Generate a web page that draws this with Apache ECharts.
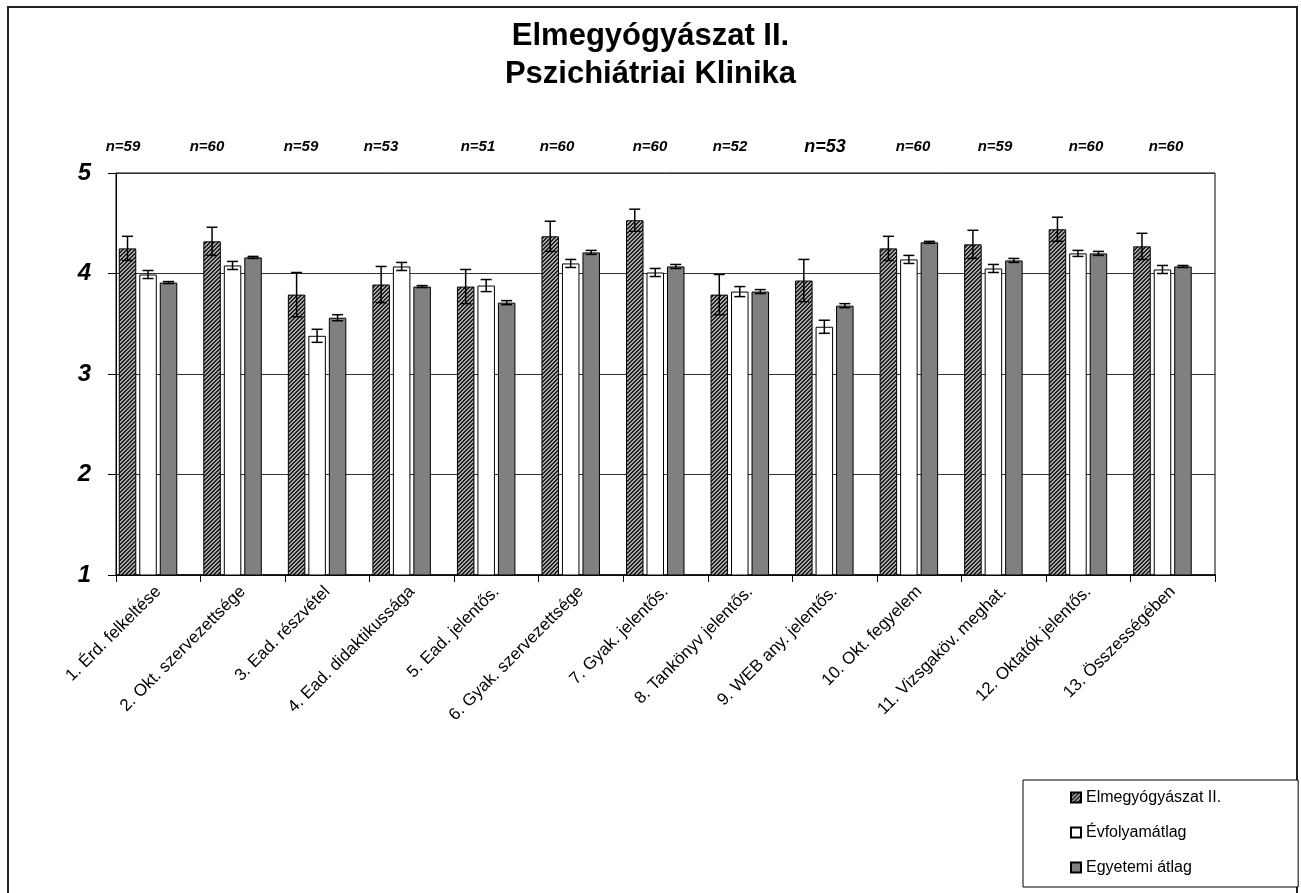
<!DOCTYPE html>
<html>
<head>
<meta charset="utf-8">
<script src="https://cdn.jsdelivr.net/npm/echarts@6/dist/echarts.min.js"></script>
<style>
  html, body { margin: 0; padding: 0; background: #fff; }
  #chart { width: 1301px; height: 893px; }
</style>
</head>
<body>
<div id="chart"></div>
<script>
// ---- data ----
const categories = ['1. Érd. felkeltése', '2. Okt. szervezettsége', '3. Ead. részvétel', '4. Ead. didaktikussága',
  '5. Ead. jelentős.', '6. Gyak. szervezettsége', '7. Gyak. jelentős.', '8. Tankönyv jelentős.',
  '9. WEB any. jelentős.', '10. Okt. fegyelem', '11. Vizsgaköv. meghat.', '12. Oktatók jelentős.', '13. Összességében'];
const seriesNames = ['Elmegyógyászat II.', 'Évfolyamátlag', 'Egyetemi átlag'];
const clinic    = [4.25, 4.32, 3.79, 3.89, 3.87, 4.37, 4.53, 3.79, 3.93, 4.25, 4.29, 4.44, 4.27];
const clinicErr = [0.12, 0.14, 0.22, 0.18, 0.17, 0.15, 0.11, 0.20, 0.21, 0.12, 0.14, 0.12, 0.13];
const yearAvg   = [3.99, 4.08, 3.38, 4.07, 3.88, 4.10, 4.01, 3.82, 3.47, 4.14, 4.05, 4.20, 4.04];
const yearErr   = [0.04, 0.04, 0.065, 0.04, 0.06, 0.04, 0.04, 0.05, 0.065, 0.04, 0.04, 0.03, 0.04];
const univAvg   = [3.91, 4.16, 3.56, 3.87, 3.71, 4.21, 4.07, 3.82, 3.68, 4.31, 4.13, 4.20, 4.07];
const univErr   = [0.01, 0.01, 0.03, 0.01, 0.02, 0.02, 0.02, 0.02, 0.02, 0.01, 0.02, 0.02, 0.01];
const nLabels   = ['n=59', 'n=60', 'n=59', 'n=53', 'n=51', 'n=60', 'n=60', 'n=52', 'n=53', 'n=60', 'n=59', 'n=60', 'n=60'];
const yTicks    = [1, 2, 3, 4, 5];

// ---- layout (positions / styles) ----
const FONT = "'Liberation Sans', Arial, sans-serif";
const nLabelX = [123, 207, 301, 381, 478, 557, 650, 730, 825, 913, 995, 1086, 1166];
const nLabelSize = [15, 15, 15, 15, 15, 15, 15, 15, 18, 15, 15, 15, 15];
const BAR_W = 17.5, BAR_GAP = 3;
const nBarsSlots = 4;
const totalW = nBarsSlots * BAR_W + (nBarsSlots - 1) * BAR_GAP;
const barOffsets = [0, 1, 2].map(i => -totalW / 2 + BAR_W / 2 + i * (BAR_W + BAR_GAP));

// hatched pattern
const pc = document.createElement('canvas');
pc.width = 4; pc.height = 4;
const pctx = pc.getContext('2d');
pctx.fillStyle = '#a8a8a8';
pctx.fillRect(0, 0, 4, 4);
pctx.fillStyle = '#222222';
for (let k = 0; k < 4; k++) {
  pctx.fillRect(k, 3 - k, 1, 1);
  pctx.fillRect((k + 1) % 4, 3 - k, 1, 1);
}
const hatch = { image: pc, repeat: 'repeat' };

const chart = echarts.init(document.getElementById('chart'), null, { renderer: 'canvas' });

function errRender(offset) {
  return function (params, api) {
    const i = api.value(0), v = api.value(1), e = api.value(2);
    const top = api.coord([i, v + e]);
    const bot = api.coord([i, v - e]);
    const x = top[0] + offset;
    const cap = 5.5;
    const st = { stroke: '#000', lineWidth: 1.5 };
    return {
      type: 'group',
      children: [
        { type: 'line', shape: { x1: x, y1: top[1], x2: x, y2: bot[1] }, style: st },
        { type: 'line', shape: { x1: x - cap, y1: top[1], x2: x + cap, y2: top[1] }, style: st },
        { type: 'line', shape: { x1: x - cap, y1: bot[1], x2: x + cap, y2: bot[1] }, style: st }
      ]
    };
  };
}

const barBase = {
  type: 'bar',
  barWidth: BAR_W,
  barGap: (BAR_GAP / BAR_W * 100).toFixed(1) + '%',
  itemStyle: { borderColor: '#000', borderWidth: 1 },
  emphasis: { disabled: true },
  animation: false
};

const values = [clinic, yearAvg, univAvg];
const errs = [clinicErr, yearErr, univErr];
const colors = [hatch, '#ffffff', '#808080'];

const series = [];
values.forEach((vals, s) => {
  series.push(Object.assign({}, barBase, {
    name: seriesNames[s],
    data: vals,
    itemStyle: { color: colors[s], borderColor: '#000', borderWidth: 1 }
  }));
});
// invisible spacer series (hidden 4th slot in original)
series.push(Object.assign({}, barBase, { name: '_spacer', data: categories.map(() => '-') }));
values.forEach((vals, s) => {
  series.push({
    type: 'custom',
    name: seriesNames[s] + ' err',
    renderItem: errRender(barOffsets[s]),
    data: vals.map((v, i) => [i, v, errs[s][i]]),
    z: 10,
    silent: true,
    animation: false
  });
});

const graphics = [
  { type: 'polyline', shape: { points: [[8, 900], [8, 7], [1297, 7], [1297, 900]] },
    style: { stroke: '#222', lineWidth: 2, fill: null }, silent: true }
];
nLabels.forEach((t, i) => {
  graphics.push({
    type: 'text', x: nLabelX[i], y: 147,
    style: { text: t, font: 'italic bold ' + nLabelSize[i] + 'px ' + FONT, fill: '#000',
             textAlign: 'center', textVerticalAlign: 'middle' },
    silent: true
  });
});

chart.setOption({
  backgroundColor: '#fff',
  animation: false,
  title: {
    text: 'Elmegyógyászat II.\nPszichiátriai Klinika',
    left: 'center',
    top: 12,
    textStyle: { fontFamily: FONT, fontSize: 31, fontWeight: 'bold', color: '#000', lineHeight: 38 }
  },
  legend: {
    data: seriesNames,
    orient: 'vertical',
    left: 1023,
    top: 780,
    padding: [8, 77, 10, 47],
    itemGap: 16,
    itemWidth: 10,
    itemHeight: 10,
    icon: 'rect',
    borderColor: '#000',
    borderWidth: 1,
    backgroundColor: '#fff',
    textStyle: { fontFamily: FONT, fontSize: 16, color: '#000', lineHeight: 19 },
    selectedMode: false
  },
  grid: {
    left: 116, right: 86, top: 173, bottom: 318,
    show: true, borderColor: '#000', borderWidth: 1, backgroundColor: 'transparent'
  },
  xAxis: {
    type: 'category',
    data: categories,
    axisLine: { lineStyle: { color: '#000', width: 1.5 } },
    axisTick: { show: true, length: 7, lineStyle: { color: '#000' }, alignWithLabel: false },
    axisLabel: { interval: 0, rotate: 45, fontFamily: FONT, fontSize: 17, color: '#000', margin: 14 }
  },
  yAxis: {
    type: 'value',
    min: yTicks[0], max: yTicks[yTicks.length - 1], interval: 1,
    axisLine: { show: true, lineStyle: { color: '#000', width: 1 } },
    axisTick: { show: true, inside: false, length: 8, lineStyle: { color: '#000' } },
    axisLabel: { fontFamily: FONT, fontSize: 24, fontWeight: 'bold', fontStyle: 'italic', color: '#000', margin: 25 },
    splitLine: { show: true, lineStyle: { color: '#333', width: 1 } }
  },
  graphic: graphics,
  series: series
});
</script>
</body>
</html>
